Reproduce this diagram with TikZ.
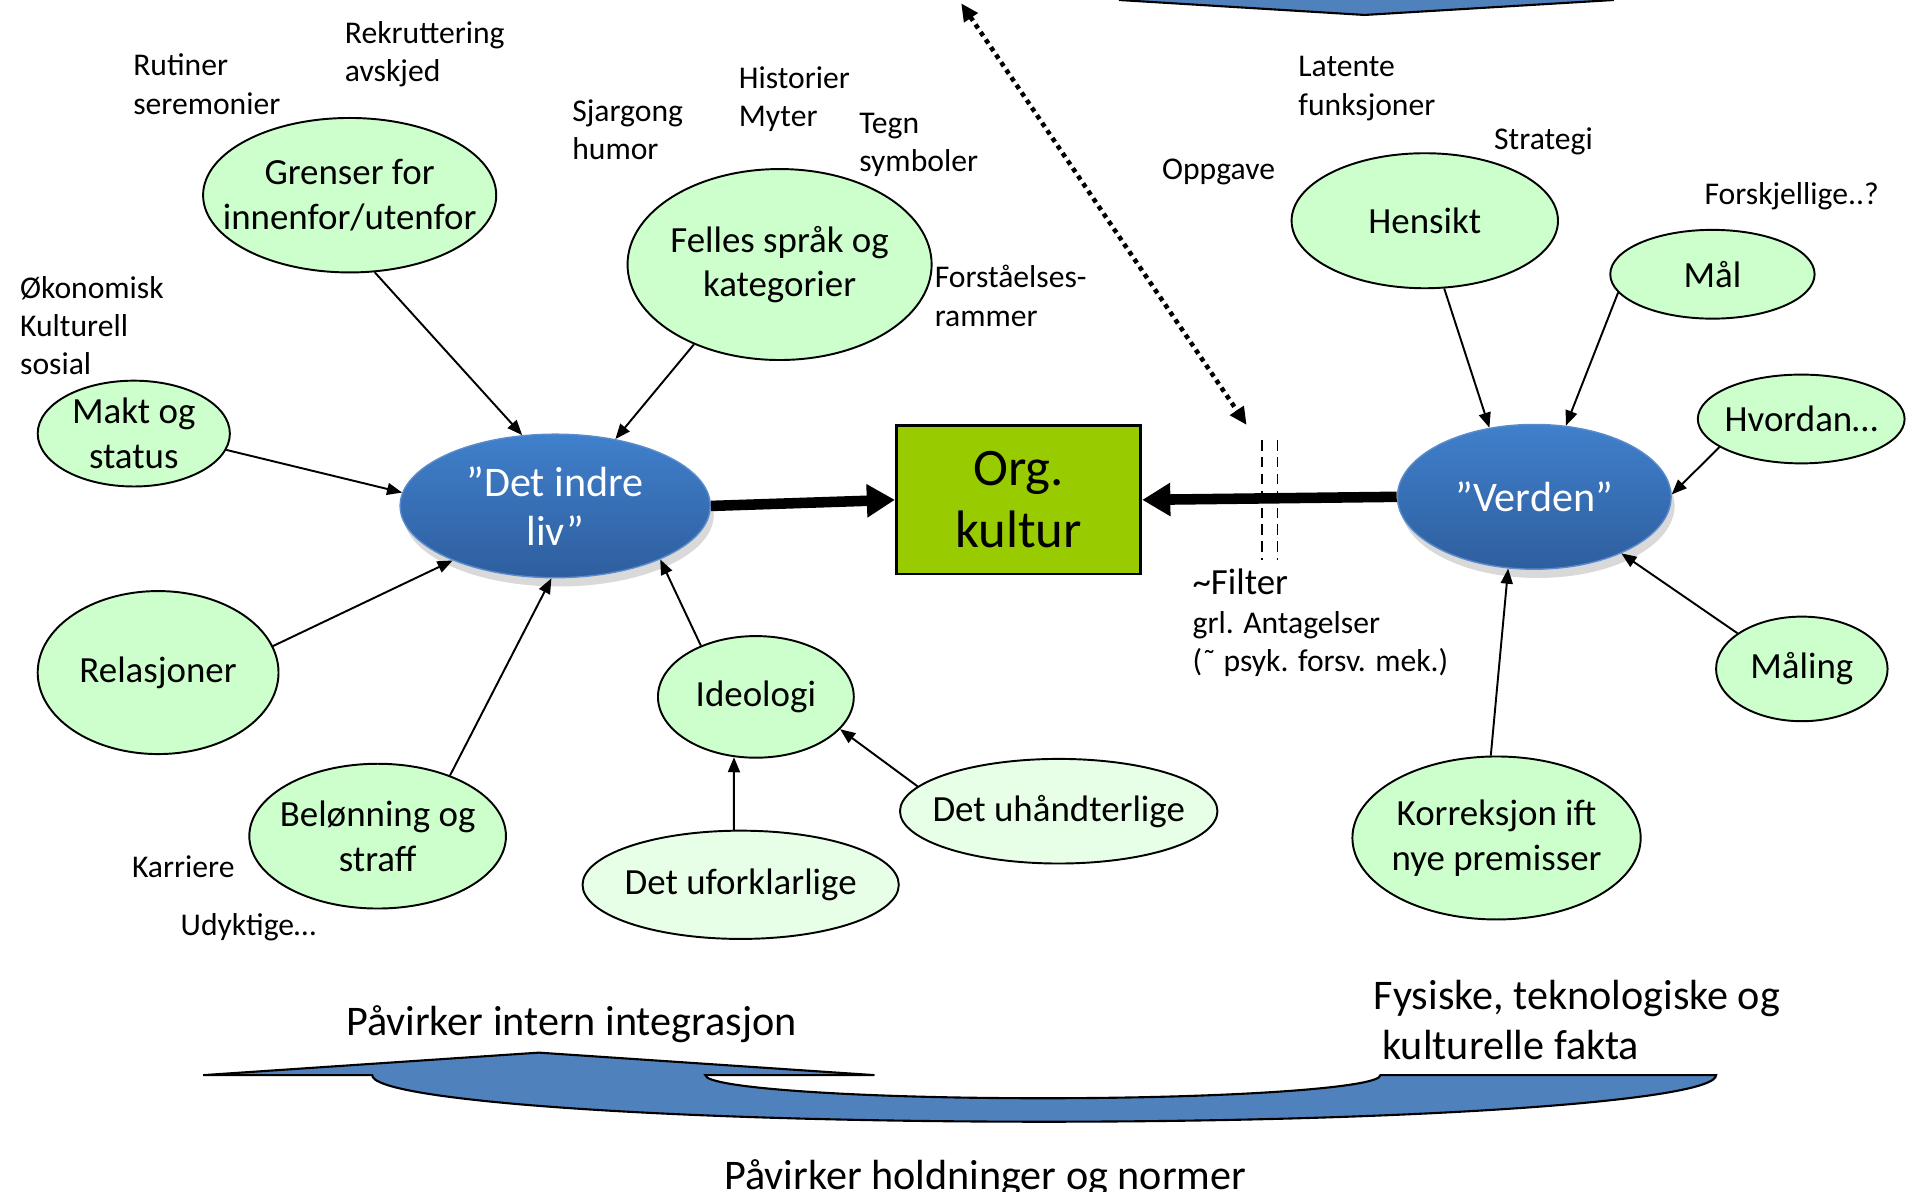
\documentclass[tikz,border=0pt]{standalone}
\usepackage{fontspec}
\setmainfont{Carlito}
\usetikzlibrary{shapes.geometric,arrows.meta,shadows}
\definecolor{bubgreen}{RGB}{204,255,204}
\definecolor{palegreen}{RGB}{230,255,230}
\definecolor{orggreen}{RGB}{153,204,0}
\definecolor{bluetop}{RGB}{64,128,204}
\definecolor{bluebot}{RGB}{46,94,158}
\definecolor{blueedge}{RGB}{90,140,205}
\definecolor{arrowblue}{RGB}{79,129,189}
\newcommand{\fsz}[2]{\fontsize{#1}{#2}\selectfont}
\begin{document}
\begin{tikzpicture}[x=0.012162cm,y=-0.012162cm,
  sz/.style 2 args={minimum width={#1*0.34604pt},minimum height={#2*0.34604pt}},
  bub/.style={ellipse,draw=black,line width=0.55pt,fill=bubgreen,inner xsep=-15pt,inner ysep=-5pt,align=center,font=\fsz{10.5}{12.7}},
  pale/.style={bub,fill=palegreen},
  bluebub/.style={ellipse,draw=blueedge,line width=0.4pt,top color=bluetop,bottom color=bluebot,text=white,inner xsep=-15pt,inner ysep=-5pt,align=center,font=\fsz{12}{13.8},drop shadow={opacity=0.3,shadow xshift=1pt,shadow yshift=-2.5pt}},
  lab/.style={anchor=west,inner sep=0pt,align=left,font=\fsz{9}{10.9},yshift=-0.8pt},
  bigtext/.style={anchor=west,inner sep=0pt,align=left,font=\fsz{12}{14.2},yshift=-0.8pt},
  arr/.style={line width=0.55pt,-{Triangle[length=4.3pt,width=3.4pt]}},
  fat/.style={line width=3pt,-{Triangle[length=8pt,width=9pt]}},
]
\useasboundingbox (0,0) rectangle (1568,980);

% big bottom curved arrow
\draw[fill=arrowblue,line width=0.6pt,line join=miter] (167,884) -- (443,865.5) -- (719,884) -- (580,884)
  .. controls (580,894.5) and (704.2,903) .. (857.5,903)
  .. controls (1010.8,903) and (1135,894.5) .. (1135,884)
  -- (1411,884)
  .. controls (1411,905.2) and (1163.6,922.3) .. (858.5,922.3)
  .. controls (553.4,922.3) and (306,905.2) .. (306,884) -- cycle;

% top blue shape (cut off)
\fill[arrowblue] (920,0) -- (1122,12.3) -- (1327,0) -- cycle;
\draw[line width=0.6pt] (920,0) -- (1122,12.3) -- (1327,0);

% bubbles
\node[bub,sz={241}{127}] (gren) at (287.5,160.5) {Grenser for\\innenfor/utenfor};
\node[bub,sz={250}{157}] (fell) at (641,217.5) {Felles språk og\\kategorier};
\node[bub,sz={158}{87}] (makt) at (110,356.5) {Makt og\\status};
\node[bluebub,sz={255}{118}] (indre) at (456.5,416) {”Det indre\\liv”};
\node[bub,sz={198}{134}] (rel) at (130,553) {Relasjoner};
\node[bub,sz={211}{119}] (bel) at (310.5,687.5) {Belønning og\\straff};
\node[bub,sz={161}{100}] (ideo) at (621.5,573) {Ideologi};
\node[pale,sz={261}{86}] (uhand) at (870.5,667) {Det uhåndterlige};
\node[pale,sz={260}{89}] (ufork) at (609,727.5) {Det uforklarlige};
\node[draw=black,line width=0.8pt,fill=orggreen,sz={201}{122},align=center,font=\fsz{15}{17.6}] (org) at (837.5,411) {Org.\\kultur};
\node[bluebub,sz={225}{119}] (verd) at (1261.5,408.5) {”Verden”};
\node[bub,sz={219}{111}] (hens) at (1171.5,181.5) {Hensikt};
\node[bub,sz={168}{73}] (maal) at (1408,225.5) {Mål};
\node[bub,sz={170}{73}] (hvor) at (1481,344.5) {Hvordan…};
\node[bub,sz={141}{86}] (mali) at (1481.5,550) {Måling};
\node[bub,sz={237}{134}] (korr) at (1230.5,689) {Korreksjon ift\\nye premisser};

% connectors
\draw[arr] (gren.-72.8) -- (indre.115.4);
\draw[arr] (fell.223.2) -- (indre.48.8);
\draw[arr] (makt.-10.7) -- (indre.175.1);
\draw[arr] (rel.13.5) -- (indre.208.6);
\draw[arr] (bel.40.7) -- (indre.-93.3);
\draw[arr] (ideo.137.3) -- (indre.-27.8);
\draw[arr] (ufork.97.7) -- (ideo.-110);
\draw[arr] (uhand.170.5) -- (ideo.-21);
\draw[fat] (indre.east) -- (org.west);
\draw[fat] (verd.west) -- (org.east);
\draw[arr] (hens.-74) -- (verd.123.3);
\draw[arr] (maal.191.5) -- (verd.66);
\draw[arr] (hvor.199.8) -- (verd.1.3);
\draw[arr] (mali.151.7) -- (verd.-33.4);
\draw[arr] (korr.94.7) -- (verd.-110);

% dotted double arrow
\coordinate (dtop) at (790.3,2.7);
\coordinate (dbot) at (1025,349.4);
\draw[line width=1.3pt,dash pattern=on 1.3pt off 1.3pt,{Triangle[length=5pt,width=4.5pt]}-{Triangle[length=5pt,width=4.5pt]}] (dtop) -- (dbot);

% filter dashed lines
\draw[dash pattern=on 3pt off 1.8pt,line width=0.5pt] (1037.9,361.8) -- (1037.9,460.5);
\draw[dash pattern=on 3pt off 1.8pt,line width=0.5pt] (1050.3,361.8) -- (1050.3,460.5);

% labels
\node[lab] (rekr) at (283,42.5) {Rekruttering\\avskjed};
\node[lab] (rut) at (109,67) {Rutiner\\seremonier};
\node[lab] (sjar) at (470,104.5) {Sjargong\\humor};
\node[lab] (hist) at (607,79.5) {Historier\\Myter};
\node[lab] (tegn) at (706,117) {Tegn\\symboler};
\node[lab] (forst) at (768,241) {Forståelses-\\rammer};
\node[lab] (okon) at (16,265.5) {Økonomisk\\Kulturell\\sosial};
\node[lab] (karr) at (108,710) {Karriere};
\node[lab] (udyk) at (148,760) {Udyktige…};
\node[lab] (oppg) at (955,139) {Oppgave};
\node[lab] (late) at (1067,70.5) {Latente\\funksjoner};
\node[lab] (strat) at (1228,114) {Strategi};
\node[lab] (forsk) at (1401,159) {Forskjellige..?};
\node[lab,font=\fsz{10.5}{12.45}] (filt) at (980,476) {\textasciitilde Filter};
\node[lab] (anta) at (980,527) {grl. Antagelser\\(˜ psyk. forsv. mek.)};
\node[bigtext] (pint) at (284,840) {Påvirker intern integrasjon};
\node[bigtext] (fys) at (1129,836.5) {Fysiske, teknologiske og\\\hspace*{0.2em}kulturelle fakta};
\node[bigtext,yshift=0.8pt,anchor=base west] (phold) at (595,978) {Påvirker holdninger og normer};
\end{tikzpicture}
\end{document}
